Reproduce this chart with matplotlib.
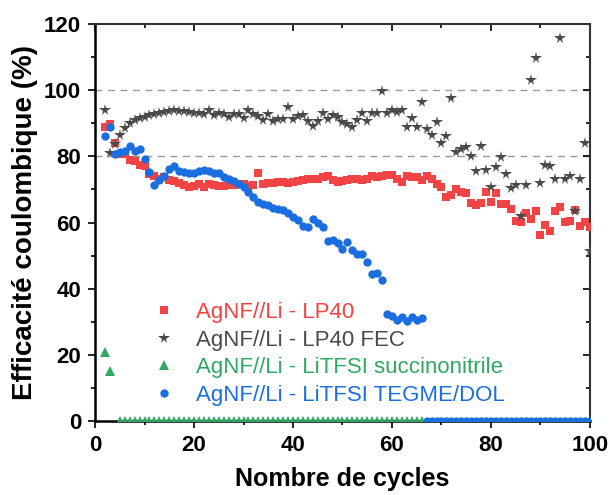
import numpy as np
import matplotlib
matplotlib.use("Agg")
import matplotlib.pyplot as plt
from matplotlib.ticker import MultipleLocator

plt.rcParams["font.family"] = ["Liberation Sans", "DejaVu Sans"]

# cycles 2..100
cycles = list(range(2, 101))

lp40 = [89, 89.7, 84, 80.7, 80.7, 78.9, 78.7, 77.5, 77, 74.7,
        74.2, 73.2, 73.7, 72.9, 72.4, 72, 71.4, 70.7, 71, 71.7,
        70.7, 71.5, 71.2, 71, 70.9, 71.2, 71.2, 71.5, 71.7, 71,
        71.4, 74.9, 71.7, 72, 72, 72.1, 72.2, 72, 72.3, 72.4,
        72.9, 73.1, 73.3, 73.3, 73.7, 74, 72.9, 72.2, 72.6, 72.7,
        73.1, 73, 72.7, 73, 74.1, 73.7, 74.1, 74.5, 74.5, 73.2,
        72.3, 74.1, 73.7, 73.7, 72.7, 74.1, 73, 71.7, 70.8, 67.8,
        68.4, 70.1, 69.3, 69, 66, 65.3, 66, 69.3, 66.1, 68.8,
        65.6, 65.6, 64, 60.6, 60.1, 62.8, 61.2, 63.4, 56.3, 59.1,
        57.3, 63.4, 64.6, 60.3, 60.6, 63.8, 58.9, 60.1, 58.6]

lp40_fec = [94, 81, 83.7, 86.4, 88.7, 90.2, 91, 91.5, 92, 92.4,
            92.8, 93.2, 93.5, 93.7, 93.9, 93.7, 93.6, 93.5, 93.2, 93,
            92.8, 93.9, 92.4, 93.2, 92.7, 91.8, 92.7, 92.7, 91.6, 93.9,
            92.7, 92.2, 91, 92.9, 90.6, 91.2, 91.3, 94.9, 91.2, 92.2,
            92.4, 90.6, 89.3, 90.8, 93.2, 91.3, 92.5, 92, 90.4, 89.7,
            89, 91, 93.2, 90.6, 93.2, 93.2, 99.8, 93.2, 94, 93.4,
            94.1, 88.9, 91.7, 88.8, 96.3, 88.4, 86.4, 90.3, 83.9, 86.2,
            97.5, 81.4, 82.2, 82.7, 80.2, 75.7, 83, 76, 70.6, 76.7,
            79.7, 74.7, 70.3, 71.3, 62.1, 71.3, 103, 109.8, 72, 77.5,
            77.2, 73, 115.7, 73, 74.2, 63.5, 73, 83.9, 51.3]

# succinonitrile: cycle 4 missing
cycles_sn = [2, 3] + list(range(5, 67))
litfsi_sn = [21, 15,
             0, 0, 0, 0, 0, 0, 0, 0, 0, 0, 0, 0, 0, 0, 0, 0,
             0, 0, 0, 0, 0, 0, 0, 0, 0, 0, 0, 0, 0, 0, 0, 0,
             0, 0, 0, 0, 0, 0, 0, 0, 0, 0, 0, 0, 0, 0, 0, 0,
             0, 0, 0, 0, 0, 0, 0, 0, 0, 0, 0, 0, 0, 0]

tegme = [86.2, 89, 80.7, 81.2, 81.7, 83, 81.7, 82.2, 79.2, 75.4,
         71.4, 72.7, 74, 76.2, 77, 75.5, 75.2, 74.9, 74.9, 75.5,
         76, 75.5, 74.9, 75.1, 73.7, 73.1, 72.4, 71.7, 70.7, 69.2,
         67.7, 66.2, 65.7, 65.2, 64.5, 64.2, 63.7, 62.9, 61.7, 60.7,
         59, 58.6, 61.1, 59.8, 58.5, 54.3, 54.8, 53.8, 52.1, 54.1,
         51.6, 50.6, 50.6, 48, 44.3, 44.8, 42.7, 32.3, 31.7, 30.5,
         31.5, 30.2, 31.5, 30.5, 31.2,
         0, 0, 0, 0, 0, 0, 0, 0, 0, 0, 0, 0, 0, 0, 0, 0, 0,
         0, 0, 0, 0, 0, 0, 0, 0, 0, 0, 0, 0, 0, 0, 0, 0, 0]

labels = ["AgNF//Li - LP40", "AgNF//Li - LP40 FEC",
          "AgNF//Li - LiTFSI succinonitrile", "AgNF//Li - LiTFSI TEGME/DOL"]

ROUGE = "#f24444"
GRIS = "#4a4a4a"
VERT = "#2fa862"
BLEU = "#1a6ee0"

fig = plt.figure(figsize=(6.11, 4.95), dpi=100)
ax = fig.add_axes([0.1555, 0.1495, 0.8101, 0.8020])

for y in (80, 100):
    ax.axhline(y, color="#999999", lw=1, ls=(0, (5, 4)), zorder=1)

ax.plot(cycles, lp40, ls="none", marker="s", ms=5.2, mew=0, color=ROUGE, label=labels[0], zorder=3)
ax.plot(cycles, lp40_fec, ls="none", marker="*", ms=8.5, mew=0, color=GRIS, label=labels[1], zorder=4)
ax.plot(cycles_sn, litfsi_sn, ls="none", marker="^", ms=6.5, mew=0, color=VERT, label=labels[2], zorder=5)
ax.plot(cycles, tegme, ls="none", marker="o", ms=6, mew=0, color=BLEU, label=labels[3], zorder=6)

ax.set_xlim(0, 100)
ax.set_ylim(0, 120)
ax.xaxis.set_major_locator(MultipleLocator(20))
ax.xaxis.set_minor_locator(MultipleLocator(10))
ax.yaxis.set_major_locator(MultipleLocator(20))
ax.yaxis.set_minor_locator(MultipleLocator(10))

ax.tick_params(which="both", top=True, right=True, labelsize=16, width=1.2, color="black")
ax.tick_params(which="major", length=5, pad=5)
ax.tick_params(which="minor", length=3)
# haut et droite : graduations vers l'interieur
for t in ax.xaxis.get_major_ticks() + ax.xaxis.get_minor_ticks():
    t.tick2line.set_marker(3)
for t in ax.yaxis.get_major_ticks() + ax.yaxis.get_minor_ticks():
    t.tick2line.set_marker(0)
for lab in ax.get_xticklabels() + ax.get_yticklabels():
    lab.set_fontweight("bold")

for side in ["left", "bottom"]:
    ax.spines[side].set_linewidth(1.8)
for side in ["top", "right"]:
    ax.spines[side].set_linewidth(1.5)
    ax.spines[side].set_color("#333333")

ax.set_xlabel("Nombre de cycles", fontsize=18, fontweight="bold", labelpad=8)
ax.set_ylabel("Efficacité coulombique (%)", fontsize=20, fontweight="bold", labelpad=4)

leg = ax.legend(loc="upper left", bbox_to_anchor=(0.116, 0.30), frameon=False,
                fontsize=16, handlelength=1.0, handletextpad=0.95, labelspacing=0.3,
                borderpad=0, borderaxespad=0, labelcolor="markerfacecolor")

fig.savefig("out.png", dpi=100)
